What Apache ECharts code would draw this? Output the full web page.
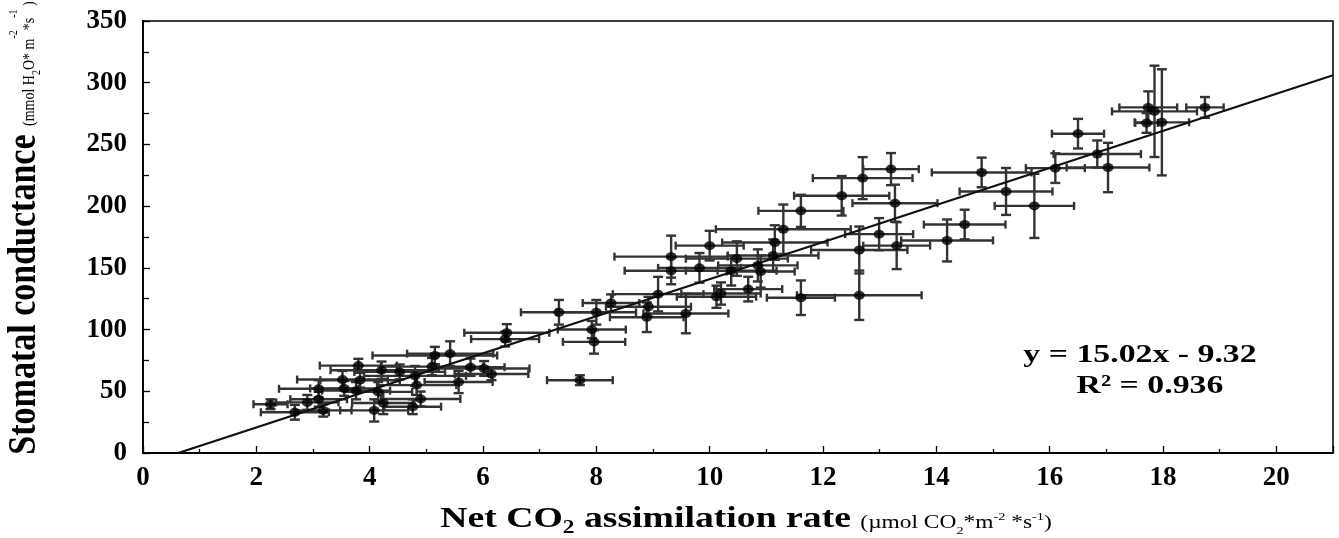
<!DOCTYPE html>
<html>
<head>
<meta charset="utf-8">
<script src="https://cdn.jsdelivr.net/npm/echarts@6/dist/echarts.min.js"></script>
<style>
  html, body { margin: 0; padding: 0; background: #fff; }
  #chart { width: 1339px; height: 538px; }
</style>
</head>
<body>
<div id="chart"></div>
<script>
// Net CO2 assimilation rate (µmol CO2 m-2 s-1), mean per sample
const netCO2 = [
  2.25, 2.68, 2.90, 3.10, 3.10, 3.18, 3.52, 3.55, 3.80, 3.83,
  3.76, 4.21, 4.15, 4.24, 4.08, 4.53, 4.80, 4.83, 4.90, 4.76,
  5.15, 5.42, 5.10, 5.78, 5.57, 6.02, 6.15, 6.42, 6.39, 7.34,
  7.71, 8.00, 8.26, 7.92, 7.96, 8.89, 8.92, 9.09, 9.58, 9.32,
  9.32, 9.82, 10.12, 10.20, 10.00, 10.48, 10.38, 10.85, 10.90, 10.68,
  11.12, 11.15, 11.30, 11.61, 11.61, 12.33, 12.70, 13.20, 13.27, 12.99,
  13.30, 12.64, 12.64, 14.19, 14.50, 14.80, 15.23, 15.73, 16.10, 16.50,
  16.84, 17.03, 17.71, 17.74, 17.85, 17.98, 18.74
];
// Stomatal conductance (mmol H2O m-2 s-1), mean per sample
const stomatalCond = [
  39.5, 33.0, 41.0, 52.0, 43.6, 34.5, 59.5, 52.3, 70.8, 59.0,
  50.5, 67.1, 49.5, 40.5, 34.5, 65.7, 62.5, 55.0, 43.8, 37.5,
  79.0, 80.5, 70.0, 69.5, 57.5, 68.5, 64.0, 97.4, 92.3, 114.0,
  59.0, 114.0, 121.5, 100.0, 90.0, 110.0, 118.5, 128.7, 113.0, 159.1,
  147.7, 150.0, 126.6, 129.2, 168.0, 157.5, 147.7, 152.0, 147.0, 132.8,
  160.0, 170.5, 181.3, 196.2, 125.8, 208.4, 222.7, 230.0, 202.4, 177.3,
  168.0, 164.5, 127.8, 172.2, 185.1, 227.3, 211.9, 200.2, 230.8, 258.7,
  242.2, 231.3, 267.4, 280.0, 276.8, 267.9, 280.0
];
// Standard deviation of the assimilation rate
const co2Err = [
  0.30, 0.60, 0.55, 0.70, 0.50, 0.50, 0.80, 0.60, 0.68, 0.70,
  0.60, 0.90, 0.60, 0.55, 0.60, 0.80, 0.90, 0.70, 0.70, 0.50,
  1.10, 0.76, 0.90, 0.60, 0.60, 0.80, 0.65, 0.75, 0.60, 0.67,
  0.58, 0.70, 0.50, 0.60, 0.55, 0.65, 0.75, 0.80, 0.75, 1.00,
  0.82, 0.73, 0.70, 0.70, 0.60, 0.90, 0.80, 0.70, 0.60, 0.60,
  0.80, 0.93, 1.19, 0.75, 0.60, 0.84, 0.88, 0.49, 0.75, 0.60,
  0.59, 0.85, 1.10, 0.81, 0.72, 0.88, 0.82, 0.70, 0.52, 0.46,
  0.77, 0.73, 0.20, 0.51, 0.75, 0.48, 0.33
];
// Standard deviation of the stomatal conductance
const condErr = [
  4, 6, 6, 7, 6, 5, 7, 6, 5.5, 6,
  7, 7, 8, 9, 9, 6, 8, 8, 6, 6,
  7, 10, 7, 7, 9, 6, 5, 7, 6, 10,
  4, 10, 7, 7, 9.5, 12, 8, 14, 16, 17,
  11, 12, 9, 9, 12, 14, 12, 13, 13, 10,
  13, 14, 20, 13, 14, 16, 17, 13, 15, 13,
  19, 19, 20, 17, 12, 12, 19, 26, 12, 12,
  11, 20, 8, 13, 37, 43, 8.4
];
// Linear fit
const fitSlope = 15.02;
const fitIntercept = -9.32;
const fitR2 = 0.936;
const xMax = 21;

const SERIF = '"Liberation Serif", "Times New Roman", serif';

const points = netCO2.map((x, i) => [x, stomatalCond[i], co2Err[i], condErr[i]]);
const fitLine = [
  [-fitIntercept / fitSlope, 0],
  [xMax, fitSlope * xMax + fitIntercept]
];

function renderErrorBars(params, api) {
  const x = api.value(0), y = api.value(1);
  const xe = api.value(2), ye = api.value(3);
  const left = api.coord([x - xe, y]);
  const right = api.coord([x + xe, y]);
  const top = api.coord([x, y + ye]);
  const bottom = api.coord([x, y - ye]);
  const capH = 4, capV = 5;
  const seg = (x1, y1, x2, y2) => ({
    type: 'line',
    shape: { x1, y1, x2, y2 },
    style: { stroke: '#333', lineWidth: 2.4 }
  });
  return {
    type: 'group',
    children: [
      seg(left[0], left[1], right[0], right[1]),
      seg(left[0], left[1] - capH, left[0], left[1] + capH),
      seg(right[0], right[1] - capH, right[0], right[1] + capH),
      seg(top[0], top[1], bottom[0], bottom[1]),
      seg(top[0] - capV, top[1], top[0] + capV, top[1]),
      seg(bottom[0] - capV, bottom[1], bottom[0] + capV, bottom[1])
    ]
  };
}

const chart = echarts.init(document.getElementById('chart'));

chart.setOption({
  animation: false,
  backgroundColor: '#fff',
  grid: {
    left: 143, right: 6, top: 21, bottom: 85,
    show: true, borderColor: '#000', borderWidth: 1.5
  },
  xAxis: {
    type: 'value', min: 0, max: xMax, interval: 2,
    axisLine: { show: true, onZero: false, lineStyle: { color: '#000', width: 1.8 } },
    axisTick: { show: true, inside: true, length: 7, lineStyle: { color: '#000', width: 1.3 } },
    minorTick: { show: true, splitNumber: 2, length: 4, lineStyle: { color: '#000', width: 1.3 } },
    splitLine: { show: false },
    axisLabel: {
      color: '#000', fontFamily: SERIF, fontWeight: 'bold', fontSize: 27, margin: 12,
      formatter: v => (v % 2 === 0 ? String(v) : '')
    }
  },
  yAxis: {
    type: 'value', min: 0, max: 350, interval: 50,
    axisLine: { show: true, lineStyle: { color: '#000', width: 1.8 } },
    axisTick: { show: true, inside: true, length: 7, lineStyle: { color: '#000', width: 1.3 } },
    minorTick: { show: true, splitNumber: 2, length: 6, lineStyle: { color: '#000', width: 1.3 } },
    splitLine: { show: false },
    axisLabel: {
      color: '#000', fontFamily: SERIF, fontWeight: 'bold', fontSize: 27, margin: 16
    }
  },
  series: [
    {
      type: 'custom',
      renderItem: renderErrorBars,
      data: points,
      encode: { x: 0, y: 1 },
      z: 2
    },
    {
      type: 'line',
      data: fitLine,
      showSymbol: false,
      lineStyle: { color: '#111', width: 2.2 },
      z: 3
    },
    {
      type: 'scatter',
      data: points.map(p => [p[0], p[1]]),
      symbol: 'circle',
      symbolSize: [11, 9],
      itemStyle: { color: '#000' },
      z: 4
    }
  ],
  graphic: [
    {
      type: 'text',
      x: 746, y: 520,
      scaleX: 1.3,
      style: {
        text: '{m|Net CO}{ms|2}{m| assimilation rate }{p|(µmol CO}{ps|2}{p|*m}{pp|-2}{p| *s}{pp|-1}{p|)}',
        align: 'center', verticalAlign: 'middle',
        rich: {
          m: { fontFamily: SERIF, fontWeight: 'bold', fontSize: 29, lineHeight: 34, fill: '#000' },
          ms: { fontFamily: SERIF, fontWeight: 'bold', fontSize: 18, verticalAlign: 'bottom', fill: '#000' },
          p: { fontFamily: SERIF, fontSize: 18, verticalAlign: 'bottom', padding: [0, 0, 5, 0], fill: '#000' },
          ps: { fontFamily: SERIF, fontSize: 11, verticalAlign: 'bottom', fill: '#000' },
          pp: { fontFamily: SERIF, fontSize: 11, verticalAlign: 'bottom', padding: [0, 0, 14, 0], fill: '#000' }
        }
      }
    },
    {
      type: 'text',
      x: 25, y: 228,
      rotation: Math.PI / 2,
      scaleY: 1.15,
      style: {
        text: '{m|Stomatal conductance }{p|(mmol H}{ps|2}{p|O* m}{pp|-2}{p|*s}{pp|-1}{p| )}',
        align: 'center', verticalAlign: 'middle',
        rich: {
          m: { fontFamily: SERIF, fontWeight: 'bold', fontSize: 34, lineHeight: 38, fill: '#000' },
          p: { fontFamily: SERIF, fontSize: 14, verticalAlign: 'bottom', padding: [0, 0, 8, 0], fill: '#000' },
          ps: { fontFamily: SERIF, fontSize: 10, verticalAlign: 'bottom', padding: [0, 0, 4, 0], fill: '#000' },
          pp: { fontFamily: SERIF, fontSize: 10, verticalAlign: 'bottom', padding: [0, 0, 24, 0], fill: '#000' }
        }
      }
    },
    {
      type: 'text',
      x: 1140, y: 355,
      scaleX: 1.3,
      style: {
        text: 'y = ' + fitSlope.toFixed(2) + 'x - ' + Math.abs(fitIntercept).toFixed(2),
        align: 'center', verticalAlign: 'middle',
        fontFamily: SERIF, fontWeight: 'bold', fontSize: 26, fill: '#000'
      }
    },
    {
      type: 'text',
      x: 1150, y: 386,
      scaleX: 1.3,
      style: {
        text: 'R² = ' + fitR2.toFixed(3),
        align: 'center', verticalAlign: 'middle',
        fontFamily: SERIF, fontWeight: 'bold', fontSize: 26, fill: '#000'
      }
    }
  ]
});
</script>
</body>
</html>
